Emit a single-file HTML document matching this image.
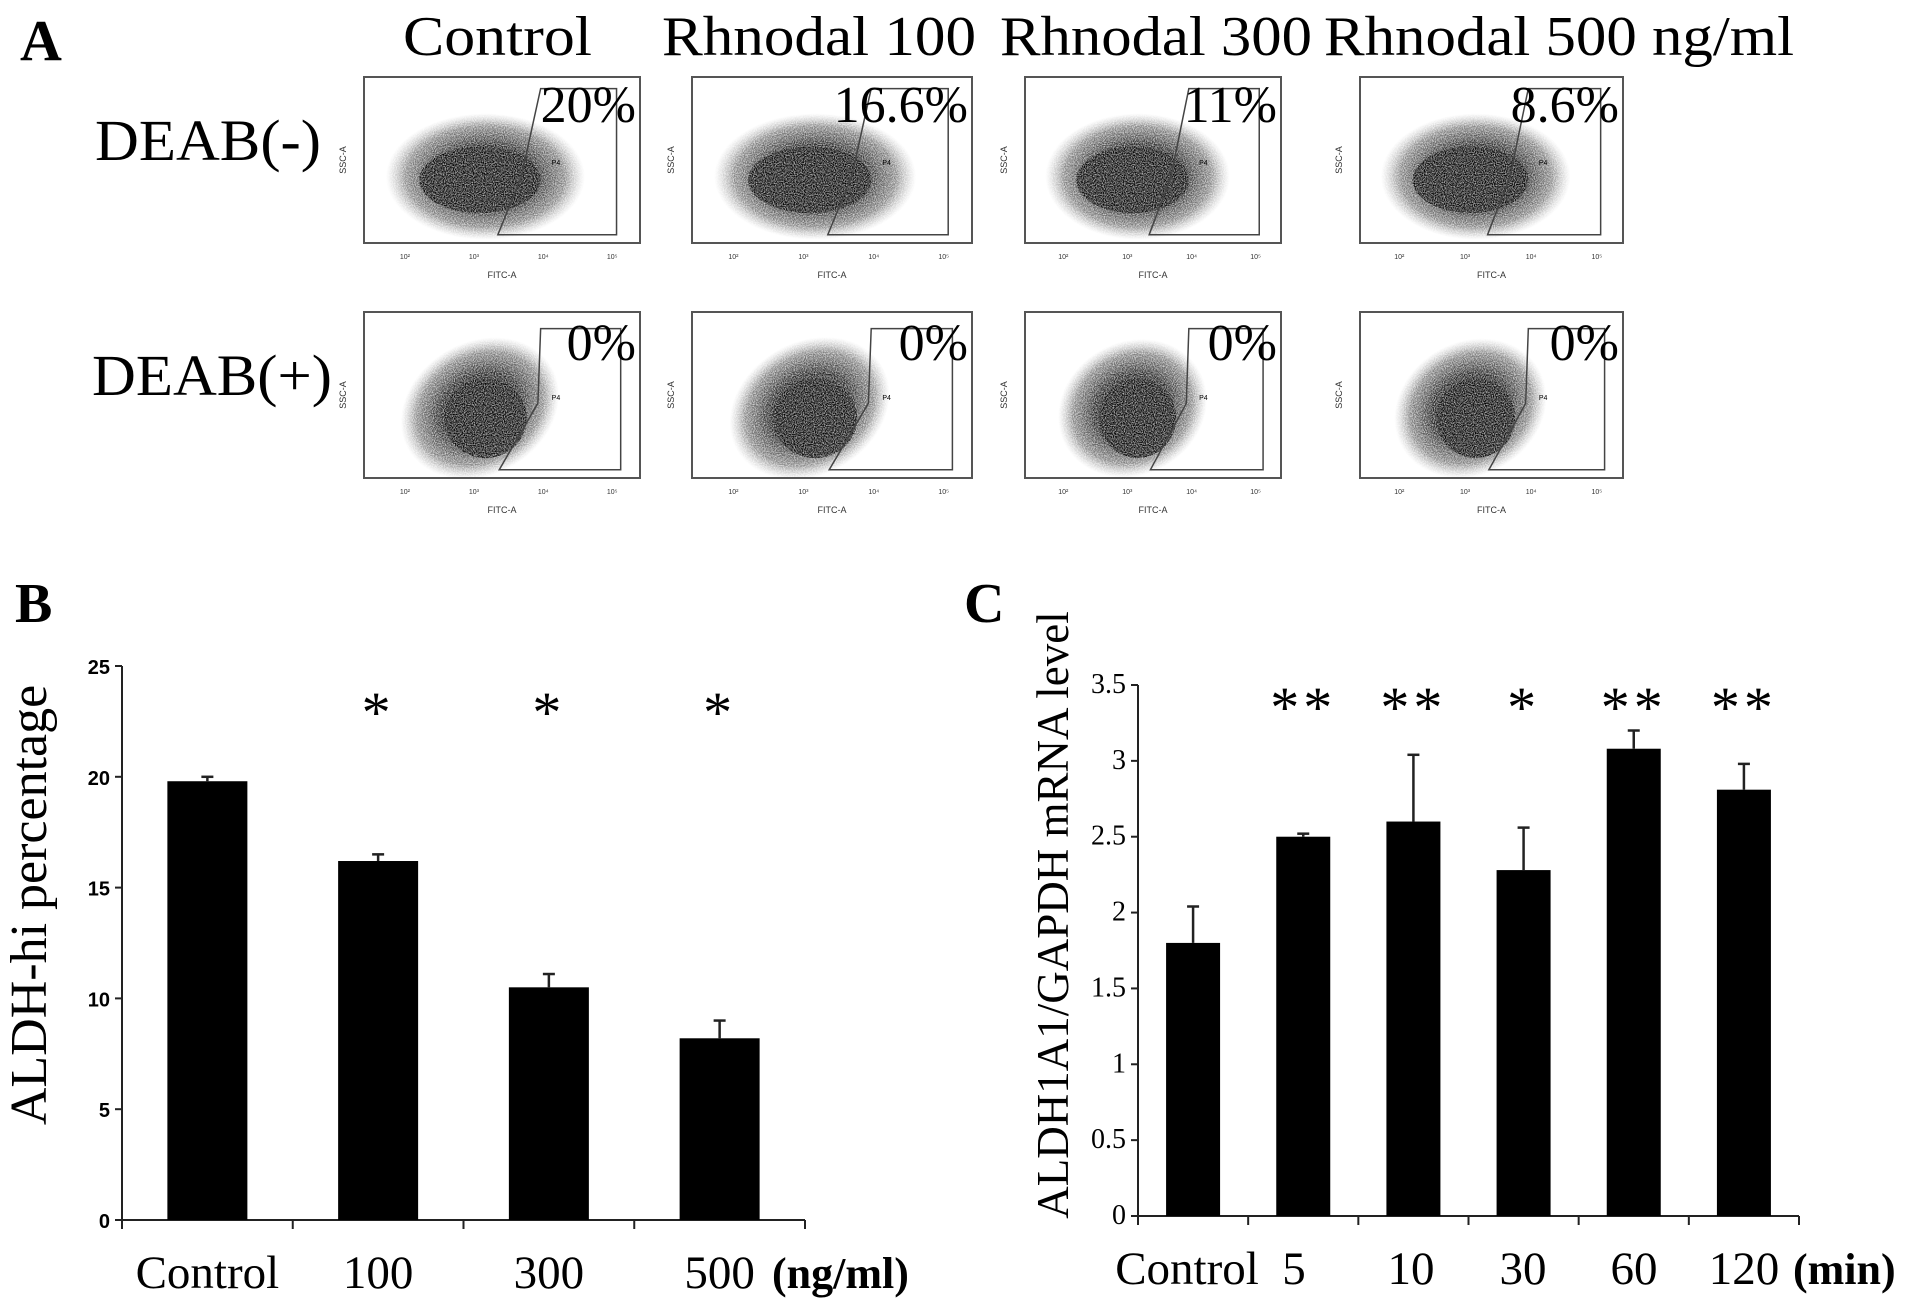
<!DOCTYPE html>
<html><head><meta charset="utf-8">
<style>
html,body{margin:0;padding:0;background:#fff;}
svg{display:block;font-family:"Liberation Serif",serif;}
</style></head>
<body>
<svg id="fig" width="1913" height="1310" viewBox="0 0 1913 1310" xmlns="http://www.w3.org/2000/svg">
<defs>
  <radialGradient id="cloud" cx="50%" cy="50%" r="50%">
    <stop offset="0" stop-color="#000" stop-opacity="1"/>
    <stop offset="0.5" stop-color="#111" stop-opacity="0.95"/>
    <stop offset="0.8" stop-color="#333" stop-opacity="0.6"/>
    <stop offset="1" stop-color="#777" stop-opacity="0"/>
  </radialGradient>
  <filter id="speck" x="0" y="0" width="100%" height="100%">
    <feTurbulence type="fractalNoise" baseFrequency="0.9" numOctaves="1" seed="3" result="n"/>
    <feColorMatrix in="n" type="matrix" values="0 0 0 0 0  0 0 0 0 0  0 0 0 0 0  0 0 0 -1.6 1.5" result="m"/>
    <feComposite in="SourceGraphic" in2="m" operator="in"/>
  </filter>
</defs>

<!-- Panel A -->
<g>
  <text x="20" y="60" font-size="58" font-weight="bold">A</text>
  <text x="403" y="55" font-size="56" textLength="189" lengthAdjust="spacingAndGlyphs">Control</text>
  <text x="662" y="55" font-size="56" textLength="314" lengthAdjust="spacingAndGlyphs">Rhnodal 100</text>
  <text x="1000" y="55" font-size="56" textLength="312" lengthAdjust="spacingAndGlyphs">Rhnodal 300</text>
  <text x="1324" y="55" font-size="56" textLength="470" lengthAdjust="spacingAndGlyphs">Rhnodal 500 ng/ml</text>
  <text x="95" y="160" font-size="58" textLength="226" lengthAdjust="spacingAndGlyphs">DEAB(-)</text>
  <text x="92" y="395" font-size="58" textLength="240" lengthAdjust="spacingAndGlyphs">DEAB(+)</text>
  <g id="flows"></g>
</g>

<!-- Panel B -->
<g id="panelB">
  <text x="15" y="622" font-size="56" font-weight="bold">B</text>
</g>
<!-- Panel C -->
<g id="panelC">
  <text x="964" y="622" font-size="56" font-weight="bold">C</text>
</g>
</svg>

<script>
const NS = "http://www.w3.org/2000/svg";
// ---- Panel A data ----
const flowCols = [364, 692, 1025, 1360];
const flowWidths = [276, 280, 256, 263];
const flowRowTops = [77, 312];
const pctTop = ["20%", "16.6%", "11%", "8.6%"];
const pctBottom = ["0%", "0%", "0%", "0%"];

// ---- Panel B data ----
const bCategories = ["Control", "100", "300", "500"];
const bValues = [19.8, 16.2, 10.5, 8.2];
const bErrTop = [20.0, 16.5, 11.1, 9.0];
const bTicks = [0, 5, 10, 15, 20, 25];
const bStars = ["", "*", "*", "*"];

// ---- Panel C data ----
const cCategories = ["Control", "5", "10", "30", "60", "120"];
const cValues = [1.8, 2.5, 2.6, 2.28, 3.08, 2.81];
const cErrTop = [2.04, 2.52, 3.04, 2.56, 3.2, 2.98];
const cTicks = [0, 0.5, 1, 1.5, 2, 2.5, 3, 3.5];
const cTickLabels = ["0", "0.5", "1", "1.5", "2", "2.5", "3", "3.5"];
const cStars = ["", "**", "**", "*", "**", "**"];

function el(tag, attrs, parent, txt) {
  const e = document.createElementNS(NS, tag);
  for (const k in attrs) e.setAttribute(k, attrs[k]);
  if (txt !== undefined) e.textContent = txt;
  parent.appendChild(e);
  return e;
}

// ---- flow plots ----
const flows = document.getElementById("flows");
for (let r = 0; r < 2; r++) {
  for (let c = 0; c < 4; c++) {
    const x = flowCols[c], y = flowRowTops[r], w = flowWidths[c], h = 166;
    const g = el("g", {}, flows);
    
    
    const cg = el("g", {filter: "url(#speck)"}, g);
    if (r === 0) {
      el("ellipse", {cx: x + w * 0.44, cy: y + h * 0.6, rx: w * 0.36, ry: h * 0.38, fill: "url(#cloud)"}, cg);
      el("ellipse", {cx: x + w * 0.42, cy: y + h * 0.62, rx: w * 0.22, ry: h * 0.2, fill: "#000", opacity: 0.9}, cg);
    } else {
      el("ellipse", {cx: x + w * 0.42, cy: y + h * 0.58, rx: w * 0.3, ry: h * 0.4, fill: "url(#cloud)", transform: "rotate(-30 " + (x + w * 0.42) + " " + (y + h * 0.58) + ")"}, cg);
      el("ellipse", {cx: x + w * 0.44, cy: y + h * 0.64, rx: w * 0.15, ry: h * 0.24, fill: "#000", opacity: 0.9}, cg);
    }
    el("rect", {x: x, y: y, width: w, height: h, fill: "none", stroke: "#555", "stroke-width": 2}, g);
    let pts;
    if (r === 0) pts = [[0.64,0.07],[0.915,0.07],[0.915,0.95],[0.485,0.95],[0.57,0.6]];
    else pts = [[0.64,0.1],[0.93,0.1],[0.93,0.95],[0.49,0.95],[0.63,0.55]];
    el("polygon", {points: pts.map(p => (x + p[0] * w) + "," + (y + p[1] * h)).join(" "), fill: "none", stroke: "#444", "stroke-width": 1.5}, g);
    el("text", {x: x + w * 0.68, y: y + h * 0.53, "font-size": 7, "font-family": "Liberation Sans, sans-serif"}, g, "P4");
    for (let i = 0; i < 4; i++) {
      const tx = x + w * (0.13 + i * 0.25);
      el("text", {x: tx, y: y + h + 16, "font-size": 7, "font-family": "Liberation Sans, sans-serif", fill: "#333"}, g, "10" + ["²","³","⁴","⁵"][i]);
    }
    el("text", {x: x + w / 2, y: y + h + 35, "font-size": 9, "text-anchor": "middle", "font-family": "Liberation Sans, sans-serif", fill: "#333"}, g, "FITC-A");
    el("text", {x: x - 18, y: y + h / 2, "font-size": 9, "text-anchor": "middle", "font-family": "Liberation Sans, sans-serif", fill: "#333", transform: "rotate(-90 " + (x - 18) + " " + (y + h / 2) + ")"}, g, "SSC-A");
    const t = el("text", {x: x + w - 4, y: y + (r === 0 ? 45 : 48), "font-size": 52, "text-anchor": "end"}, g, r === 0 ? pctTop[c] : pctBottom[c]);
    
    
  }
}

// ---- bar chart helper ----
function barChart(cfg) {
  const g = document.getElementById(cfg.id);
  const ys = v => cfg.y0 - (v - cfg.vmin) / (cfg.vmax - cfg.vmin) * (cfg.y0 - cfg.yTop);
  const n = cfg.cats.length;
  const step = (cfg.xEnd - cfg.x0) / n;
  const xs = i => cfg.x0 + step * (i + 0.5);
  const ya = el("line", {x1: cfg.x0, y1: cfg.yTop, x2: cfg.x0, y2: cfg.y0, stroke: "#222", "stroke-width": 2}, g);
  
  
  const xa = el("line", {x1: cfg.x0, y1: cfg.y0, x2: cfg.xEnd, y2: cfg.y0, stroke: "#222", "stroke-width": 2}, g);
  
  
  for (let i = 0; i <= n; i++) {
    const tx = cfg.x0 + step * i;
    el("line", {x1: tx, y1: cfg.y0, x2: tx, y2: cfg.y0 + 9, stroke: "#222", "stroke-width": 2}, g);
  }
  cfg.ticks.forEach((v, i) => {
    el("line", {x1: cfg.x0 - 7, y1: ys(v), x2: cfg.x0, y2: ys(v), stroke: "#222", "stroke-width": 2}, g);
    const t = el("text", {x: cfg.x0 - 12, y: ys(v) + 8, "font-size": cfg.tickFont, "text-anchor": "end", "font-weight": cfg.tickBold ? "bold" : "normal", "font-family": cfg.tickFamily}, g, cfg.tickLabels[i]);
    
    
  });
  cfg.vals.forEach((v, i) => {
    const cx = xs(i);
    const b = el("rect", {x: cx - cfg.bw / 2, y: ys(v), width: cfg.bw, height: cfg.y0 - ys(v), fill: "#000"}, g);
    
    
    const e = el("line", {x1: cx, y1: ys(cfg.err[i]), x2: cx, y2: ys(v), stroke: "#222", "stroke-width": 2.5}, g);
    
    
    el("line", {x1: cx - 6, y1: ys(cfg.err[i]), x2: cx + 6, y2: ys(cfg.err[i]), stroke: "#222", "stroke-width": 2.5}, g);
    if (cfg.stars[i]) {
      const s = el("text", {x: cx, y: cfg.starY, "font-size": 58, "text-anchor": "middle", "letter-spacing": 4}, g, cfg.stars[i]);
      
      
    }
    const lx = cfg.labelX ? cfg.labelX[i] : cx;
    const l = el("text", {x: lx, y: cfg.y0 + 68, "font-size": 47, "text-anchor": "middle"}, g, cfg.cats[i]);
    
    
  });
  const u = el("text", {x: cfg.unitX, y: cfg.y0 + 68, "font-size": 44, "font-weight": "bold"}, g, cfg.unit);
  
  
  const yt = el("text", {x: cfg.titleX, y: cfg.titleY, "font-size": cfg.titleFont, "text-anchor": "middle", transform: "rotate(-90 " + cfg.titleX + " " + cfg.titleY + ")"}, g, cfg.title);
  
  
}

barChart({id: "panelB", cats: bCategories, vals: bValues, err: bErrTop, ticks: bTicks,
  tickLabels: bTicks.map(String), stars: bStars, vmin: 0, vmax: 25, y0: 1220, yTop: 666,
  x0: 122, xEnd: 805, bw: 80, starY: 732, tickFont: 20, tickBold: true,
  tickFamily: "Liberation Sans Narrow, Liberation Sans, sans-serif",
  unit: "(ng/ml)", unitX: 772, title: "ALDH-hi percentage", titleX: 46, titleY: 905, titleFont: 52});

barChart({id: "panelC", cats: cCategories, vals: cValues, err: cErrTop, ticks: cTicks,
  tickLabels: cTickLabels, stars: cStars, vmin: 0, vmax: 3.5, y0: 1216, yTop: 685,
  x0: 1138, xEnd: 1799, bw: 54, starY: 727, tickFont: 28, tickBold: false,
  tickFamily: "Liberation Serif, serif", labelX: [1187, 1294, 1411, 1523, 1634, 1744],
  unit: "(min)", unitX: 1793, title: "ALDH1A1/GAPDH mRNA level", titleX: 1068, titleY: 915, titleFont: 45});
</script>
</body></html>
